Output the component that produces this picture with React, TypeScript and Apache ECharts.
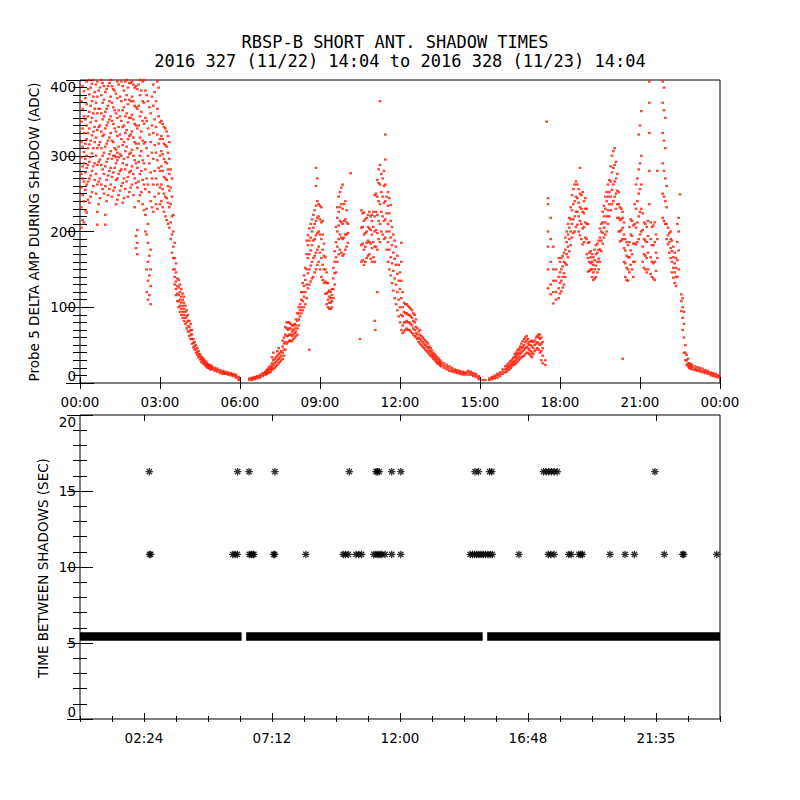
import React, { useEffect, useRef } from "react";
import * as echarts from "echarts";

const titleLines = [
  "RBSP-B SHORT ANT. SHADOW TIMES",
  "2016 327 (11/22) 14:04 to 2016 328 (11/23) 14:04",
];
const topYTitle = "Probe 5 DELTA AMP DURING SHADOW (ADC)";
const bottomYTitle = "TIME BETWEEN SHADOWS (SEC)";

const topHourLabels = ["00:00", "03:00", "06:00", "09:00", "12:00", "15:00", "18:00", "21:00", "00:00"];
const bottomTickHours = [2.4, 7.2, 12, 16.8, 21.6];
const bottomTickLabels = ["02:24", "07:12", "12:00", "16:48", "21:35"];

// [hour, amplitude values read in that time bin...]
const ampBins: number[][] = [
  [0.05, 205, 232, 258, 276, 298, 318, 345, 372],
  [0.15, 212, 240, 266, 290, 305, 330, 352, 385],
  [0.25, 225, 262, 284, 300, 322, 340, 368, 398],
  [0.35, 238, 270, 292, 315, 336, 358, 381, 400],
  [0.45, 252, 280, 303, 327, 350, 372, 395],
  [0.55, 268, 290, 318, 338, 362, 384],
  [0.65, 209, 226, 262, 288, 310, 334, 356, 378, 398],
  [0.75, 244, 270, 295, 318, 340, 362, 390],
  [0.85, 256, 282, 300, 326, 348, 370, 396],
  [0.95, 209, 222, 260, 286, 312, 336, 358, 384],
  [1.05, 248, 274, 296, 320, 344, 366, 392],
  [1.15, 262, 284, 306, 330, 352, 378, 400],
  [1.25, 254, 278, 300, 318, 342, 364, 388],
  [1.35, 236, 268, 290, 298, 308, 332, 356, 382],
  [1.45, 248, 276, 298, 312, 338, 360, 394],
  [1.55, 260, 282, 300, 322, 346, 372, 398],
  [1.65, 244, 270, 296, 318, 340, 364, 386],
  [1.75, 266, 288, 312, 334, 356, 380, 400],
  [1.85, 252, 278, 302, 326, 350, 374, 396],
  [1.95, 262, 286, 308, 332, 354, 378, 398],
  [2.05, 232, 270, 294, 318, 342, 366, 390],
  [2.15, 170, 185, 202, 258, 284, 310, 336, 362, 388],
  [2.25, 248, 276, 300, 324, 352, 380, 400],
  [2.35, 236, 268, 294, 320, 346, 372, 398],
  [2.45, 200, 222, 256, 282, 318, 350, 386],
  [2.55, 110, 135, 160, 185, 210, 262, 300, 336, 372],
  [2.65, 104, 128, 150, 176, 240, 278, 318, 356],
  [2.75, 226, 262, 296, 330, 366, 394],
  [2.85, 236, 270, 304, 338, 372],
  [2.95, 250, 284, 316, 352, 390],
  [3.05, 240, 262, 286, 306, 326, 346],
  [3.15, 226, 250, 272, 296, 316, 338],
  [3.25, 215, 244, 268, 290, 312, 332],
  [3.35, 205, 232, 254, 276, 296, 318],
  [3.45, 172, 196, 220, 246, 270],
  [3.55, 130, 140, 150, 165, 185],
  [3.65, 108, 118, 128, 138],
  [3.75, 94, 102, 110, 120, 130],
  [3.85, 86, 94, 102, 110, 118],
  [3.95, 78, 86, 94, 102],
  [4.05, 68, 75, 82, 90],
  [4.15, 58, 64, 70, 78],
  [4.25, 47, 53, 58],
  [4.35, 40, 45, 50],
  [4.45, 34, 38, 42],
  [4.55, 28, 32, 35],
  [4.65, 25, 28, 31],
  [4.75, 21, 24, 27],
  [4.85, 19, 22, 24],
  [4.95, 18, 20, 22],
  [5.05, 16, 18, 20],
  [5.15, 15, 17, 19],
  [5.25, 13, 15, 17],
  [5.35, 12, 14, 16],
  [5.45, 12, 13, 15],
  [5.55, 11, 12, 14],
  [5.65, 10, 12, 13],
  [5.75, 9, 11, 12],
  [5.85, 7, 9, 11],
  [5.95, 4, 6, 8],
  [6.35, 4, 6],
  [6.45, 4, 6, 7],
  [6.55, 5, 7, 8],
  [6.65, 6, 8, 9],
  [6.75, 7, 9, 11],
  [6.85, 9, 11, 13],
  [6.95, 11, 13, 15],
  [7.05, 13, 16, 19],
  [7.15, 15, 19, 23],
  [7.25, 19, 24, 30, 40],
  [7.35, 22, 28, 34],
  [7.45, 26, 32, 38, 46],
  [7.55, 30, 36, 42],
  [7.65, 36, 44, 52, 60],
  [7.75, 52, 62, 72, 80],
  [7.85, 56, 64, 72, 80],
  [7.95, 55, 62, 68, 76],
  [8.05, 60, 66, 72, 78],
  [8.15, 64, 72, 82, 92],
  [8.25, 88, 96, 104],
  [8.35, 96, 108, 120, 132],
  [8.45, 104, 120, 136, 152],
  [8.55, 125, 145, 165, 182, 195],
  [8.65, 134, 155, 175, 192, 210],
  [8.75, 140, 165, 188, 205, 222],
  [8.85, 150, 172, 195, 214, 234, 260, 284],
  [8.95, 160, 180, 200, 220, 236],
  [9.05, 140, 165, 190, 212, 232],
  [9.15, 132, 150, 168, 184],
  [9.25, 104, 118, 132, 146],
  [9.35, 98, 106, 114, 122],
  [9.45, 100, 108, 116, 124],
  [9.55, 130, 145, 160, 174],
  [9.65, 160, 180, 200, 218, 232],
  [9.75, 176, 196, 214, 232, 252],
  [9.85, 168, 190, 210, 230, 262],
  [9.95, 176, 196, 216, 240],
  [10.05, 185, 198, 210],
  [10.15, 277],
  [10.55, 160, 182, 205, 228],
  [10.65, 156, 176, 196, 214, 225],
  [10.75, 165, 185, 200, 218],
  [10.85, 170, 186, 204, 226],
  [10.95, 160, 178, 196, 214, 222],
  [11.05, 160, 180, 200, 220, 248, 82],
  [11.15, 176, 198, 222, 246, 268, 120],
  [11.25, 372, 186, 210, 236, 262, 288],
  [11.35, 196, 220, 246, 270],
  [11.45, 328, 192, 216, 240, 262, 295],
  [11.55, 160, 186, 210, 234, 252],
  [11.65, 142, 166, 192, 214, 235],
  [11.75, 122, 148, 172, 196],
  [11.85, 104, 130, 156, 180],
  [11.95, 88, 110, 135, 156],
  [12.05, 70, 90, 112, 135, 160, 185],
  [12.15, 68, 80, 94, 106],
  [12.25, 72, 82, 92, 104],
  [12.35, 70, 80, 90, 100],
  [12.45, 66, 76, 86, 96],
  [12.55, 62, 70, 80, 90],
  [12.65, 58, 64, 72],
  [12.75, 52, 58, 64, 70],
  [12.85, 48, 54, 60],
  [12.95, 44, 50, 56],
  [13.05, 40, 46, 52],
  [13.15, 36, 41, 46],
  [13.25, 32, 36, 40],
  [13.35, 28, 32, 36],
  [13.45, 25, 28, 32],
  [13.55, 22, 25, 28],
  [13.65, 20, 23, 26],
  [13.75, 18, 21, 24],
  [13.85, 16, 19, 22],
  [13.95, 15, 17, 20],
  [14.05, 14, 16, 18],
  [14.15, 13, 15, 17],
  [14.25, 12, 14, 16],
  [14.35, 11, 13, 15],
  [14.45, 11, 13, 14],
  [14.55, 11, 14, 16],
  [14.65, 11, 13, 15],
  [14.75, 9, 11, 13],
  [14.85, 8, 10, 12],
  [14.95, 5, 7, 9],
  [15.1, 4],
  [15.2, 4],
  [15.35, 4, 6],
  [15.45, 5, 7, 8],
  [15.55, 6, 8, 10],
  [15.65, 7, 10, 12],
  [15.75, 9, 12, 14],
  [15.85, 12, 15, 18],
  [15.95, 14, 18, 22],
  [16.05, 17, 21, 25],
  [16.15, 20, 24, 29],
  [16.25, 24, 28, 33],
  [16.35, 26, 31, 36, 40],
  [16.45, 30, 35, 40, 45],
  [16.55, 34, 40, 46, 52],
  [16.65, 36, 44, 50, 58],
  [16.75, 40, 48, 56, 62],
  [16.85, 38, 44, 50, 54],
  [16.95, 34, 40, 48, 56],
  [17.05, 42, 50, 56],
  [17.15, 46, 54, 62],
  [17.25, 40, 50, 58, 64],
  [17.35, 26, 36, 46, 54],
  [17.45, 24, 30],
  [17.5, 345],
  [17.55, 125, 150, 180, 200, 236, 244],
  [17.65, 117, 130, 160, 190, 218],
  [17.75, 105, 120, 135, 150, 180],
  [17.85, 110, 120, 135, 150],
  [17.95, 112, 125, 140, 165],
  [18.05, 121, 135, 150, 165],
  [18.15, 130, 145, 160, 172],
  [18.25, 156, 170, 186, 200],
  [18.35, 174, 190, 205, 218],
  [18.45, 192, 210, 228, 248],
  [18.55, 200, 220, 240, 262],
  [18.65, 209, 226, 244, 262],
  [18.75, 195, 214, 232, 250, 284],
  [18.85, 183, 204, 226, 252],
  [18.95, 192, 212, 230, 244],
  [19.05, 147, 165, 185, 210],
  [19.15, 150, 158, 166, 174],
  [19.25, 136, 146, 156, 166],
  [19.35, 140, 155, 170, 182],
  [19.45, 150, 164, 176, 188],
  [19.55, 174, 188, 200, 210],
  [19.65, 192, 205, 220, 234],
  [19.75, 200, 220, 240, 252],
  [19.85, 220, 236, 252, 268],
  [19.95, 236, 255, 278, 300],
  [20.05, 246, 266, 288, 310],
  [20.15, 218, 236, 254, 276],
  [20.25, 187, 200, 215, 232],
  [20.35, 190, 205, 218, 226, 32],
  [20.45, 140, 158, 175, 190],
  [20.55, 135, 150, 166, 182],
  [20.65, 156, 175, 196, 216],
  [20.75, 140, 160, 184, 208],
  [20.85, 183, 205, 230, 262],
  [20.95, 190, 220, 250, 282, 328],
  [21.05, 200, 230, 262, 300, 359],
  [21.15, 152, 170, 190, 212],
  [21.25, 146, 165, 186, 206],
  [21.35, 236, 280, 330, 370, 398],
  [21.45, 140, 160, 182, 206],
  [21.55, 136, 160, 186, 212],
  [21.65, 165, 190, 280],
  [21.85, 218, 250, 290, 330, 370, 398],
  [21.95, 210, 240, 270, 310, 350],
  [22.05, 183, 195, 205],
  [22.15, 165, 178, 190, 200],
  [22.25, 139, 152, 166, 180],
  [22.35, 128, 140, 152, 165],
  [22.45, 150, 175, 200, 218],
  [22.5, 249],
  [22.55, 95, 108, 117],
  [22.65, 40, 60, 78, 94],
  [22.75, 24, 30, 37],
  [22.85, 20, 23, 26],
  [22.95, 18, 21, 24],
  [23.05, 17, 19, 22],
  [23.15, 16, 18, 21],
  [23.25, 15, 17, 20],
  [23.35, 14, 16, 19],
  [23.45, 13, 15, 17],
  [23.55, 12, 14, 16],
  [23.65, 10, 12, 14],
  [23.75, 9, 11, 13],
  [23.85, 8, 10, 12],
  [23.95, 7, 9, 10],
];
// further readings between the bins above
const ampBinsBetween: number[][] = [
  [0.1, 215, 248, 270, 286, 312, 336, 362, 392],
  [0.2, 228, 255, 278, 296, 316, 348, 376],
  [0.3, 242, 266, 288, 310, 330, 352, 388],
  [0.4, 246, 274, 298, 320, 344, 366, 390],
  [0.5, 260, 286, 310, 332, 356, 378, 400],
  [0.6, 250, 276, 300, 324, 346, 370, 394],
  [0.7, 236, 266, 292, 314, 338, 362, 386],
  [0.8, 262, 288, 310, 332, 356, 380, 400],
  [0.9, 250, 276, 304, 328, 352, 374, 392],
  [1.0, 240, 268, 292, 316, 340, 362, 388],
  [1.1, 256, 280, 302, 324, 348, 372, 396],
  [1.2, 246, 272, 296, 320, 346, 370, 392],
  [1.3, 258, 284, 300, 310, 336, 360, 386],
  [1.4, 242, 270, 294, 304, 326, 350, 376, 398],
  [1.5, 254, 280, 302, 328, 352, 378],
  [1.6, 238, 264, 290, 314, 338, 360, 392],
  [1.7, 256, 282, 306, 330, 352, 374, 398],
  [1.8, 246, 272, 298, 322, 344, 368, 390],
  [1.9, 258, 280, 304, 328, 350, 372, 396],
  [2.0, 248, 276, 300, 324, 348, 372, 394],
  [2.1, 178, 194, 264, 290, 316, 340, 364, 392],
  [2.2, 240, 266, 292, 316, 340, 366, 394],
  [2.3, 252, 280, 306, 332, 358, 386],
  [2.4, 228, 262, 290, 316, 342, 370, 400],
  [2.5, 120, 150, 196, 230, 270, 310, 346, 380],
  [2.6, 116, 142, 168, 252, 290, 328, 364],
  [2.7, 232, 270, 304, 340, 378],
  [2.8, 246, 280, 314, 348, 384],
  [2.9, 230, 262, 294, 328, 362, 398],
  [3.0, 236, 258, 280, 300, 322, 344],
  [3.1, 232, 256, 280, 302, 322, 342],
  [3.2, 220, 246, 270, 292, 314, 336],
  [3.3, 210, 238, 260, 282, 304, 326],
  [3.4, 190, 212, 236, 258, 282],
  [3.5, 150, 165, 180, 200, 222],
  [3.6, 116, 124, 134, 146, 158],
  [3.7, 100, 108, 116, 126, 136],
  [3.8, 90, 98, 106, 114, 124],
  [3.9, 82, 90, 98, 106, 114],
  [4.0, 72, 80, 88, 96],
  [4.1, 62, 68, 74, 82],
  [4.2, 52, 58, 64, 70],
  [4.3, 44, 49, 54],
  [4.4, 37, 41, 46],
  [4.5, 31, 35, 38],
  [4.6, 26, 30, 33],
  [4.7, 23, 26, 29],
  [4.8, 20, 23, 25],
  [4.9, 18, 21, 23],
  [7.0, 12, 14, 17],
  [7.1, 14, 18, 21],
  [7.2, 17, 21, 26, 34],
  [7.3, 20, 26, 32],
  [7.4, 24, 30, 36, 42],
  [7.5, 28, 34, 40],
  [7.6, 32, 40, 48, 56],
  [7.7, 44, 54, 64, 74],
  [7.8, 54, 62, 70, 80],
  [7.9, 56, 64, 72, 78],
  [8.0, 58, 64, 70, 76],
  [8.1, 62, 68, 76, 84],
  [8.2, 76, 84, 92, 100],
  [8.3, 92, 100, 110, 120],
  [8.4, 100, 114, 128, 142],
  [8.5, 112, 130, 150, 170, 188],
  [8.6, 130, 150, 170, 188, 204],
  [8.7, 138, 160, 182, 200, 216],
  [8.8, 146, 168, 190, 210, 228],
  [8.9, 156, 176, 198, 218, 240, 270],
  [9.0, 150, 172, 196, 216, 234],
  [9.1, 136, 156, 176, 196, 214],
  [9.2, 118, 134, 150, 166],
  [9.3, 100, 110, 120, 132],
  [9.4, 98, 106, 112, 120],
  [9.5, 112, 124, 138, 152],
  [9.6, 146, 166, 186, 206],
  [9.7, 170, 190, 208, 226, 246],
  [9.8, 172, 192, 212, 236, 258],
  [9.9, 170, 192, 214, 236],
  [10.0, 180, 196, 212, 228],
  [10.6, 162, 184, 206, 224],
  [10.7, 160, 180, 198, 216],
  [10.8, 168, 188, 206, 222],
  [10.9, 164, 184, 202, 220],
  [11.0, 166, 186, 206, 226],
  [11.1, 180, 202, 226, 250],
  [11.2, 190, 214, 240, 264, 282],
  [11.3, 200, 226, 252, 276],
  [11.4, 190, 214, 238, 260, 280],
  [11.5, 176, 200, 224, 246],
  [11.6, 150, 176, 200, 224, 244],
  [11.7, 132, 158, 182, 206],
  [11.8, 112, 138, 164, 188],
  [11.9, 96, 120, 144, 168],
  [12.0, 80, 100, 124, 146],
  [12.1, 66, 76, 88, 100, 120],
  [12.2, 70, 80, 92, 104],
  [12.3, 70, 80, 90, 102],
  [12.4, 68, 78, 88, 98],
  [12.5, 64, 72, 82, 92],
  [12.6, 60, 66, 74, 84],
  [12.7, 54, 60, 68],
  [12.8, 50, 56, 62],
  [12.9, 46, 52, 58],
  [13.0, 42, 48, 54],
  [13.1, 38, 43, 48],
  [13.2, 34, 38, 43],
  [13.3, 30, 34, 38],
  [13.4, 26, 30, 34],
  [13.5, 23, 26, 30],
  [16.0, 15, 19, 23],
  [16.1, 18, 22, 27],
  [16.2, 22, 26, 31],
  [16.3, 25, 29, 34, 38],
  [16.4, 28, 33, 38, 43],
  [16.5, 32, 38, 43, 48],
  [16.6, 35, 42, 48, 55],
  [16.7, 38, 46, 54, 60],
  [16.8, 40, 46, 52, 58],
  [16.9, 36, 42, 50, 55],
  [17.0, 38, 46, 54],
  [17.1, 44, 52, 60],
  [17.2, 44, 52, 60, 64],
  [17.3, 30, 42, 52, 60],
  [18.0, 118, 132, 146, 160],
  [18.1, 126, 140, 154, 168],
  [18.2, 140, 158, 176, 192],
  [18.3, 166, 180, 196, 210],
  [18.4, 182, 200, 216, 232],
  [18.5, 198, 216, 236, 256],
  [18.6, 206, 226, 246, 266],
  [18.7, 200, 220, 238, 256],
  [18.8, 190, 210, 230, 248],
  [18.9, 186, 206, 224, 240],
  [19.0, 170, 190, 210, 230],
  [19.1, 148, 160, 172, 186],
  [19.2, 140, 150, 160, 170],
  [19.3, 138, 150, 162, 176],
  [19.4, 146, 160, 172, 184],
  [19.5, 160, 176, 192, 204],
  [19.6, 184, 198, 212, 226],
  [19.7, 196, 212, 230, 246],
  [19.8, 210, 228, 246, 262],
  [19.9, 228, 246, 266, 286],
  [20.0, 240, 262, 284, 306],
  [20.1, 230, 250, 270, 292],
  [20.2, 200, 218, 236, 252],
  [20.3, 188, 202, 216, 230],
  [20.4, 160, 178, 196, 212],
  [20.5, 136, 152, 168, 186],
  [20.6, 146, 166, 186, 206],
  [20.7, 150, 170, 194, 214],
  [20.8, 160, 184, 210, 236],
  [20.9, 186, 212, 240, 270],
  [21.0, 196, 226, 256, 290, 340],
  [21.1, 160, 180, 202, 224],
  [21.2, 150, 168, 188, 210],
  [21.3, 150, 172, 194, 214],
  [21.4, 144, 166, 190, 212],
  [21.5, 138, 158, 182, 208],
  [21.6, 148, 172, 196],
  [21.9, 214, 246, 280, 320, 360, 390],
  [22.0, 190, 210, 232, 260],
  [22.1, 172, 186, 198],
  [22.2, 146, 160, 174, 188],
  [22.3, 132, 146, 158, 172],
  [22.4, 140, 162, 186, 210],
  [22.6, 70, 86, 100, 112],
  [22.7, 30, 40, 50],
  [22.8, 22, 26, 32],
  [22.9, 19, 22, 25],
];
const extraAmpPoints = [
  [8.6, 44],
  [10.5, 58],
  [11.07, 70],
];

// bottom panel: shadow spacing (sec)
const singleGapValue = 5.43;
const singleGapSegments = [
  [0, 6.06],
  [6.23, 15.1],
  [15.27, 24],
];
const doubleGapValue = 10.83;
const doubleGapTimes = [
  2.61, 2.65, 5.73, 5.82, 5.9, 6.35, 6.42, 6.48, 6.52, 7.26, 7.3, 8.47, 9.87, 9.95, 10.06,
  10.35, 10.45, 10.56, 11.02, 11.1, 11.18, 11.25, 11.32, 11.44, 11.69, 12.03, 14.63, 14.72,
  14.8, 14.88, 14.96, 15.04, 15.12, 15.2, 15.3, 15.38, 15.46, 16.46, 17.56, 17.66, 17.78,
  18.33, 18.42, 18.71, 18.78, 18.84, 19.875, 20.44, 20.79, 21.91, 22.6, 22.64, 23.88,
];
const tripleGapValue = 16.27;
const tripleGapTimes = [
  2.6, 5.91, 6.34, 7.31, 10.1, 11.1, 11.15, 11.22, 11.69, 12.03, 14.81, 14.94, 15.36, 15.44,
  17.38, 17.48, 17.58, 17.68, 17.78, 17.9, 21.56,
];

const FONT = "DejaVu Sans";
const MONO = "DejaVu Sans Mono";
const BLACK = "#000";
const RED = "#ff1800";
const STAR = "path://M4,0L4,8M0,4L8,4M1.2,1.2L6.8,6.8M1.2,6.8L6.8,1.2";

function buildOption(): any {
  const ampData: number[][] = [];
  [...ampBins, ...ampBinsBetween].forEach((row) => {
    const t = row[0];
    for (let i = 1; i < row.length; i++) ampData.push([t, row[i]]);
  });
  extraAmpPoints.forEach((p) => ampData.push(p));

  const tickLine = { color: BLACK, width: 1 };
  const labelBase = { color: BLACK, fontFamily: FONT, fontSize: 13.5 };

  const hourLabel = (v: number) => topHourLabels[Math.round(v / 3)] ?? "";
  const bottomLabel = (v: number) => {
    const i = bottomTickHours.findIndex((h) => Math.abs(h - v) < 1e-6);
    return i >= 0 ? bottomTickLabels[i] : "";
  };

  const xCommon = {
    type: "value",
    min: 0,
    max: 24,
    axisLine: { show: false },
    splitLine: { show: false },
  };

  const xAxis = [
    {
      ...xCommon,
      gridIndex: 0,
      position: "bottom",
      interval: 3,
      axisTick: { inside: true, length: 6, lineStyle: tickLine },
      axisLabel: { ...labelBase, margin: 12, formatter: hourLabel, showMinLabel: true, showMaxLabel: true },
    },
    {
      ...xCommon,
      gridIndex: 0,
      position: "top",
      interval: 3,
      axisTick: { inside: true, length: 6, lineStyle: tickLine },
      axisLabel: { show: false },
    },
    {
      ...xCommon,
      gridIndex: 1,
      position: "bottom",
      interval: 1.2,
      axisTick: { inside: true, length: 3, lineStyle: tickLine },
      axisLabel: { show: false },
    },
    {
      ...xCommon,
      gridIndex: 1,
      position: "top",
      interval: 1.2,
      axisTick: { inside: true, length: 3, lineStyle: tickLine },
      axisLabel: { show: false },
    },
    {
      ...xCommon,
      gridIndex: 1,
      position: "bottom",
      axisTick: { inside: true, length: 6, lineStyle: tickLine, customValues: bottomTickHours },
      axisLabel: { ...labelBase, margin: 12, customValues: bottomTickHours, formatter: bottomLabel },
    },
    {
      ...xCommon,
      gridIndex: 1,
      position: "top",
      axisTick: { inside: true, length: 6, lineStyle: tickLine, customValues: bottomTickHours },
      axisLabel: { show: false },
    },
  ];

  const yTop = {
    type: "value",
    gridIndex: 0,
    min: 0,
    max: 400,
    interval: 100,
    axisLine: { show: false },
    splitLine: { show: false },
    axisTick: { inside: true, length: 14, lineStyle: tickLine },
    minorTick: { show: true, splitNumber: 10, length: 7, lineStyle: tickLine },
    minorSplitLine: { show: false },
  };
  const yBottom = {
    type: "value",
    gridIndex: 1,
    min: 0,
    max: 20,
    interval: 5,
    axisLine: { show: false },
    splitLine: { show: false },
    axisTick: { inside: true, length: 13, lineStyle: tickLine },
    minorTick: { show: true, splitNumber: 5, length: 7, lineStyle: tickLine },
    minorSplitLine: { show: false },
  };
  const yLabel = {
    ...labelBase,
    margin: 4,
    verticalAlignMinLabel: "bottom",
    verticalAlignMaxLabel: "top",
  };
  const yAxis = [
    { ...yTop, position: "left", axisLabel: yLabel },
    { ...yTop, position: "right", axisLabel: { show: false } },
    { ...yBottom, position: "left", axisLabel: yLabel },
    { ...yBottom, position: "right", axisLabel: { show: false } },
  ];

  const starStyle = {
    type: "scatter",
    xAxisIndex: 2,
    yAxisIndex: 2,
    symbol: STAR,
    symbolSize: 7.5,
    itemStyle: { color: BLACK, borderColor: BLACK, borderWidth: 1.3 },
    silent: true,
  };

  const series: any[] = [
    {
      type: "scatter",
      xAxisIndex: 0,
      yAxisIndex: 0,
      data: ampData,
      symbol: "rect",
      symbolSize: [2.7, 2.3],
      itemStyle: { color: RED },
      silent: true,
      clip: true,
    },
    ...singleGapSegments.map(([a, b]) => ({
      type: "line",
      xAxisIndex: 2,
      yAxisIndex: 2,
      data: [
        [a, singleGapValue],
        [b, singleGapValue],
      ],
      symbol: "none",
      lineStyle: { color: BLACK, width: 8.4, cap: "butt" },
      silent: true,
    })),
    { ...starStyle, data: doubleGapTimes.map((t) => [t, doubleGapValue]) },
    { ...starStyle, data: tripleGapTimes.map((t) => [t, tripleGapValue]) },
  ];

  const graphic = [
    {
      type: "text",
      x: 395,
      y: 42,
      style: { text: titleLines[0], font: `17px "${MONO}"`, fill: BLACK, align: "center", verticalAlign: "middle" },
    },
    {
      type: "text",
      x: 400,
      y: 61,
      style: { text: titleLines[1], font: `17px "${MONO}"`, fill: BLACK, align: "center", verticalAlign: "middle" },
    },
    {
      type: "text",
      x: 34,
      y: 232,
      rotation: Math.PI / 2,
      style: { text: topYTitle, font: `13.5px "${FONT}"`, fill: BLACK, align: "center", verticalAlign: "middle" },
    },
    {
      type: "text",
      x: 43,
      y: 568,
      rotation: Math.PI / 2,
      style: { text: bottomYTitle, font: `13.5px "${FONT}"`, fill: BLACK, align: "center", verticalAlign: "middle" },
    },
  ];

  return {
    animation: false,
    backgroundColor: "#fff",
    grid: [
      { left: 80, top: 80, width: 640, height: 303, show: true, borderColor: BLACK, borderWidth: 1, backgroundColor: "transparent" },
      { left: 80, top: 415, width: 640, height: 304, show: true, borderColor: BLACK, borderWidth: 1, backgroundColor: "transparent" },
    ],
    xAxis,
    yAxis,
    series,
    graphic,
  };
}

export default function App() {
  const ref = useRef<HTMLDivElement>(null);
  useEffect(() => {
    if (!ref.current) return;
    const chart = echarts.init(ref.current, null, { renderer: "svg" });
    chart.setOption(buildOption());
    return () => chart.dispose();
  }, []);
  return (
    <div
      ref={ref}
      style={{ position: "absolute", left: 0, top: 0, width: 800, height: 800, background: "#fff" }}
    />
  );
}
